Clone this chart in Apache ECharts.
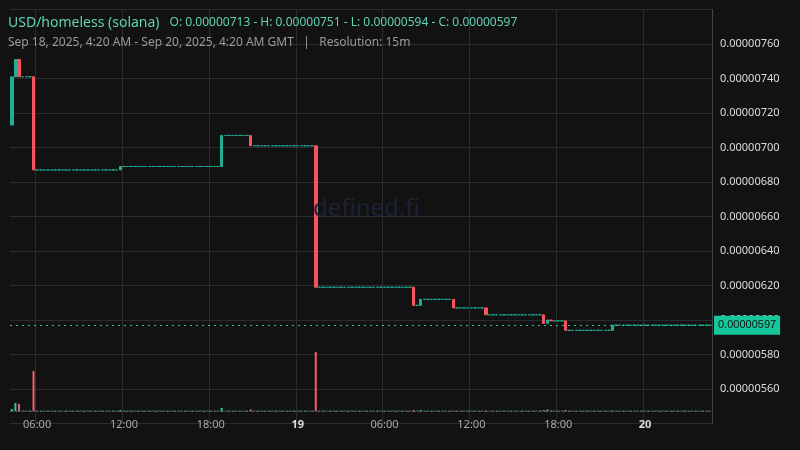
<!DOCTYPE html>
<html><head><meta charset="utf-8">
<script src="https://cdn.jsdelivr.net/npm/echarts@6/dist/echarts.min.js"></script>
<style>html,body{margin:0;background:#121212}#c{width:800px;height:450px}</style>
</head><body><div id="c"></div>
<script>
// Prices in units of 1e-8 USD
const candleCount = 194;             // 15m candles from Sep 18 04:15 GMT
const startTime = Date.UTC(2025, 8, 18, 4, 15);
const eventIndex = [0, 1, 2, 6, 30, 58, 66, 84, 111, 113, 122, 131, 147, 148, 149, 153, 166];
const eventOpen  = [713, 741, 751, 741, 687, 689, 707, 701, 619, 608.5, 612, 607, 603, 598, 600, 599.5, 594];
const eventClose = [741, 751, 741, 687, 689, 707, 701, 619, 608.5, 612, 607, 603, 598, 600, 599.5, 594, 597];
const eventVolume= [2, 8, 7, 40, 1, 3, 1.5, 59, 1, 1, 0.5, 0.5, 1, 1.5, 0.5, 1, 0.5];
const lastPrice = 597;
const priceTicks = [560, 580, 600, 620, 640, 660, 680, 700, 720, 740, 760];

const times = [], ohlc = [], vols = [];
let prev = eventOpen[0];
for (let i = 0; i < candleCount; i++) {
  times.push(startTime + i * 900000);
  const k = eventIndex.indexOf(i);
  if (k >= 0) {
    const o = eventOpen[k], c = eventClose[k];
    ohlc.push([o, c, Math.min(o, c), Math.max(o, c)]);
    vols.push({value: eventVolume[k], itemStyle: {color: c >= o ? '#2fc9a0' : '#f0606f'}});
    prev = c;
  } else {
    ohlc.push([prev, prev, prev, prev]);
    vols.push({value: 0.4, itemStyle: {color: '#2fc9a0'}});
  }
}
const showIdx = (idx) => { const d = new Date(times[idx]); return d.getUTCMinutes() === 0 && d.getUTCHours() % 6 === 0; };
const fmt = (v) => (v * 1e-8).toFixed(8);

const chart = echarts.init(document.getElementById('c'));
chart.setOption({
  backgroundColor: '#121212',
  animation: false,
  title: [
    {text: '{a|USD/homeless (solana)}  {b|O: 0.00000713 - H: 0.00000751 - L: 0.00000594 - C: 0.00000597}', left: 3, top: 9,
     textStyle: {fontWeight: 'normal', rich: {a: {fontSize: 14, color: '#5fd3b4', fontFamily: 'Noto Sans', fontWeight: 'normal'}, b: {fontSize: 12, color: '#5fd3b4', fontFamily: 'Noto Sans', fontWeight: 'normal'}}}},
    {text: 'Sep 18, 2025, 4:20 AM - Sep 20, 2025, 4:20 AM GMT   |   Resolution: 15m', left: 3, top: 32,
     textStyle: {fontSize: 12, color: '#9a9a9a', fontWeight: 'normal', fontFamily: 'Noto Sans'}},
    {text: 'defined.fi', left: 308, top: 192, textStyle: {fontSize: 24, color: '#1c2136', fontWeight: 'normal', fontFamily: 'Noto Sans'}}
  ],
  grid: [
    {left: 10, width: 702, top: 9.5, height: 414},
    {left: 10, width: 702, top: 340, height: 71}
  ],
  xAxis: [
    {type: 'category', data: times, gridIndex: 0, boundaryGap: true,
     axisLine: {show: false}, axisTick: {show: false}, axisLabel: {show: false},
     splitLine: {show: true, interval: (i) => showIdx(i), lineStyle: {color: '#2c2c2c'}}},
    {type: 'category', data: times, gridIndex: 1, boundaryGap: true,
     axisLine: {show: true, lineStyle: {color: '#555', type: 'dashed'}}, axisTick: {show: false},
     axisLabel: {interval: (i) => showIdx(i), margin: 8, color: '#aaa', fontSize: 11, fontFamily: 'Noto Sans',
       formatter: (v) => { const d = new Date(+v); const h = d.getUTCHours();
         if (h === 0) return '{d|' + d.getUTCDate() + '}';
         return String(h).padStart(2, '0') + ':00'; },
       rich: {d: {fontWeight: 'bold', color: '#ddd', fontSize: 11}}}}
  ],
  yAxis: [
    {type: 'value', gridIndex: 0, position: 'right', min: 540, max: 780, interval: 20,
     axisLine: {show: true, lineStyle: {color: '#444'}}, axisTick: {show: false},
     axisLabel: {color: '#ddd', fontSize: 11, margin: 8, fontFamily: 'Noto Sans',
       formatter: (v) => priceTicks.includes(v) ? fmt(v) : ''},
     splitLine: {lineStyle: {color: '#2c2c2c'}}},
    {type: 'value', gridIndex: 1, min: 0, max: 71, show: false}
  ],
  series: [
    {type: 'candlestick', xAxisIndex: 0, yAxisIndex: 0, data: ohlc, barWidth: 3,
     itemStyle: {color: '#1fae96', color0: '#f7525f', borderColor: '#1fae96', borderColor0: '#f7525f', borderWidth: 1},
     markLine: {symbol: 'none', silent: true, data: [{yAxis: lastPrice}],
       lineStyle: {color: '#2fc9a0', type: [2, 4], width: 1},
       label: {position: 'end', formatter: fmt(lastPrice), backgroundColor: '#17c79c', color: '#111',
         padding: [4, 4], fontSize: 11, distance: 2}}},
    {type: 'bar', xAxisIndex: 1, yAxisIndex: 1, data: vols, barWidth: 2}
  ]
});
</script></body></html>
